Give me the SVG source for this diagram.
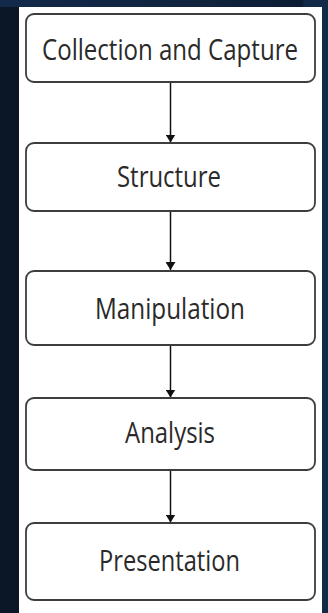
<svg xmlns="http://www.w3.org/2000/svg" width="328" height="613" viewBox="0 0 328 613">
  <defs>
    <linearGradient id="topBand" x1="0" y1="0" x2="1" y2="0">
      <stop offset="0" stop-color="#13294a"/>
      <stop offset="0.6" stop-color="#11253f"/>
      <stop offset="0.92" stop-color="#0d1d33"/>
      <stop offset="0.93" stop-color="#13294a"/>
      <stop offset="1" stop-color="#13294a"/>
    </linearGradient>
    <marker id="arrow" viewBox="0 0 8 10" refX="8" refY="5" markerWidth="8" markerHeight="10" markerUnits="userSpaceOnUse" orient="auto">
      <path d="M0,0 L8,5 L0,10 Z" fill="#111"/>
    </marker>
    <style>
      .box { fill: #ffffff; stroke: #3d3d3d; stroke-width: 1.8; }
      .label { font-family: "Open Sans", "Noto Sans", sans-serif; font-size: 29px; fill: #2a2a2a; text-anchor: middle; }
      .edge { stroke: #111; stroke-width: 1.5; fill: none; marker-end: url(#arrow); }
    </style>
  </defs>

  <!-- backdrop -->
  <rect x="0" y="0" width="328" height="613" fill="#13294a"/>
  <rect x="0" y="0" width="328" height="7" fill="url(#topBand)"/>
  <rect x="0" y="7" width="19" height="606" fill="#0b1727"/>
  <rect x="19" y="7" width="303" height="606" fill="#ffffff"/>

  <!-- connectors -->
  <g id="connectors">
    <line class="edge" x1="170.5" y1="83" x2="170.5" y2="142.5"/>
    <line class="edge" x1="170.5" y1="212" x2="170.5" y2="270"/>
    <line class="edge" x1="170.5" y1="346" x2="170.5" y2="397.5"/>
    <line class="edge" x1="170.5" y1="471" x2="170.5" y2="522.5"/>
  </g>

  <g id="collection">
    <rect class="box" x="26" y="14" width="289" height="68" rx="8"/>
    <!-- condensed horizontally so the long label fits the box -->
    <text class="label" transform="translate(170,60) scale(0.7,1)" x="0" y="0" textLength="365.7" lengthAdjust="spacingAndGlyphs">Collection and Capture</text>
  </g>

  <g id="structure">
    <rect class="box" x="26" y="143" width="289" height="68" rx="8"/>
    <text class="label" x="169" y="187" textLength="104" lengthAdjust="spacingAndGlyphs">Structure</text>
  </g>

  <g id="manipulation">
    <rect class="box" x="26" y="271" width="289" height="74" rx="8"/>
    <text class="label" x="170" y="319" textLength="150" lengthAdjust="spacingAndGlyphs">Manipulation</text>
  </g>

  <g id="analysis">
    <rect class="box" x="26" y="398" width="289" height="72" rx="8"/>
    <text class="label" x="170" y="443" textLength="90" lengthAdjust="spacingAndGlyphs">Analysis</text>
  </g>

  <g id="presentation">
    <rect class="box" x="26" y="523" width="289" height="77" rx="8"/>
    <text class="label" x="169.5" y="571" textLength="141" lengthAdjust="spacingAndGlyphs">Presentation</text>
  </g>
</svg>
